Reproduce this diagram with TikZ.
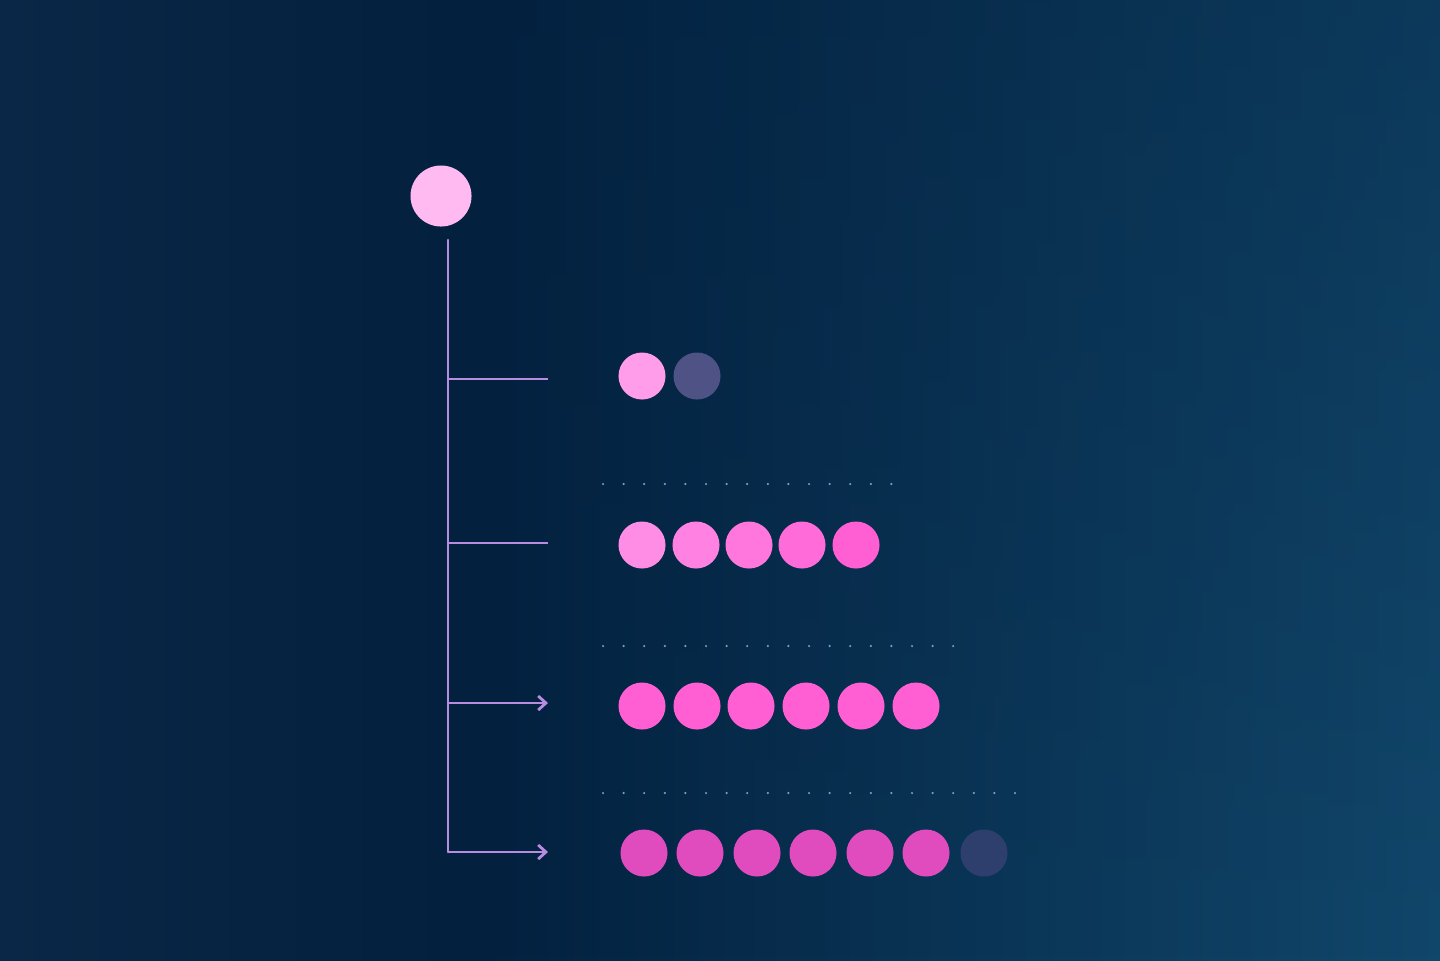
\documentclass[tikz,border=0pt]{standalone}
\usetikzlibrary{arrows.meta,fadings}
\definecolor{bgL}{HTML}{0A2747}
\definecolor{bgM}{HTML}{03203E}
\definecolor{bgR}{HTML}{11476B}
\definecolor{lineC}{HTML}{B88CE0}
\definecolor{dotC}{HTML}{7E9CBB}
\definecolor{topC}{HTML}{FFBAF2}
\definecolor{rA}{HTML}{FF9DEA}
\definecolor{greyC}{HTML}{4E5284}
\definecolor{greyD}{HTML}{2E3F6E}
\definecolor{bA}{HTML}{FF8DE6}
\definecolor{bB}{HTML}{FF82E2}
\definecolor{bC}{HTML}{FF77DD}
\definecolor{bD}{HTML}{FF6BD8}
\definecolor{bE}{HTML}{FF5FD2}
\definecolor{cC}{HTML}{FF5FD3}
\definecolor{dC}{HTML}{E04CBE}
\begin{document}
\begin{tikzpicture}[x=0.01cm,y=-0.01cm,
  dot/.style={circle,inner sep=0pt,minimum size=0.47cm,fill=#1},
  bigdot/.style={circle,inner sep=0pt,minimum size=0.61cm,fill=#1},
  branch/.style={draw=lineC,line width=0.75pt},
  arrowbranch/.style={branch,-{Straight Barb[length=2.2pt,width=4pt,line width=0.8pt]}},
  sep/.style={draw=dotC,line width=0.7pt,line cap=round,dash pattern=on 0pt off 20.6*0.01cm}]
\useasboundingbox (0,0) rectangle (1440,960);
\shade[left color=bgL,right color=bgM] (0,0) rectangle (460,960);
\shade[left color=bgM,right color=bgR] (460,0) rectangle (1440,960);
\fill[bgM,opacity=0.35,path fading=south] (460,0) rectangle (1440,960);

\node[bigdot=topC] (top) at (441,196) {};

\coordinate (vtop) at (448,240);
\coordinate (b1) at (448,379);
\coordinate (b2) at (448,543);
\coordinate (b3) at (448,703);
\coordinate (b4) at (448,852);
\coordinate (e1) at (548,379);
\coordinate (e2) at (548,543);
\coordinate (e3) at (548,703);
\coordinate (e4) at (548,852);

\draw[branch,line cap=round] (vtop) -- (b1) -- (b2) -- (b3) -- (b4);
\draw[branch] (b1) -- (e1);
\draw[branch] (b2) -- (e2);
\draw[arrowbranch] (b3) -- (e3);
\draw[arrowbranch] (b4) -- (e4);

% row 1
\node[dot=rA] (r1a) at (642,376) {};
\node[dot=greyC] (r1b) at (697,376) {};

% separators
\coordinate (s1a) at (603,484); \coordinate (s1b) at (900,484);
\coordinate (s2a) at (603,646); \coordinate (s2b) at (960,646);
\coordinate (s3a) at (603,793); \coordinate (s3b) at (1020,793);
\draw[sep] (s1a) -- (s1b);
\draw[sep] (s2a) -- (s2b);
\draw[sep] (s3a) -- (s3b);

% row 2
\node[dot=bA] (r2a) at (642,545) {};
\node[dot=bB] (r2b) at (696,545) {};
\node[dot=bC] (r2c) at (749,545) {};
\node[dot=bD] (r2d) at (802,545) {};
\node[dot=bE] (r2e) at (856,545) {};

% row 3
\foreach \i/\x in {a/642,b/697,c/751,d/806,e/861,f/916}
  \node[dot=cC] (r3\i) at (\x,706) {};

% row 4
\foreach \i/\x in {a/644,b/700,c/757,d/813,e/870,f/926}
  \node[dot=dC] (r4\i) at (\x,853) {};
\node[dot=greyD] (r4g) at (984,853) {};
\end{tikzpicture}
\end{document}
